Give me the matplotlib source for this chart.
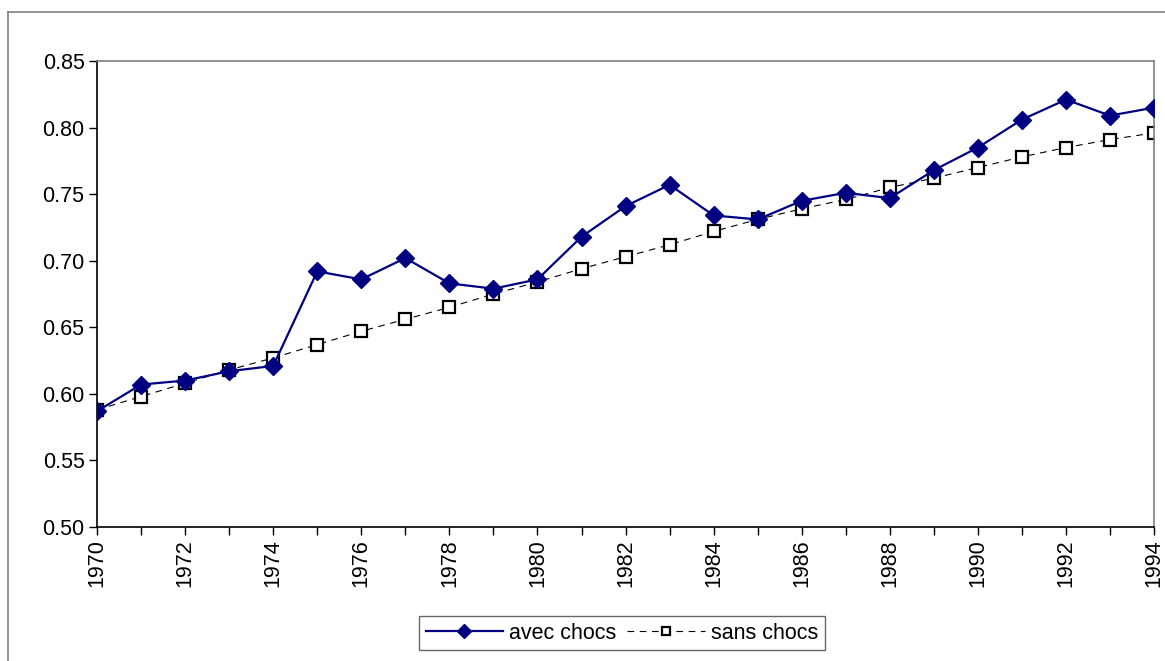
import matplotlib.pyplot as plt
from matplotlib.lines import Line2D

plt.rcParams['font.family'] = ['Liberation Sans', 'DejaVu Sans']

# Data
years = list(range(1970, 1995))
avec_chocs = [0.587, 0.607, 0.610, 0.617, 0.621, 0.692, 0.686, 0.702, 0.683,
              0.679, 0.686, 0.718, 0.741, 0.757, 0.734, 0.731, 0.745, 0.751,
              0.747, 0.768, 0.785, 0.806, 0.821, 0.809, 0.815]
sans_chocs = [0.588, 0.598, 0.608, 0.618, 0.627, 0.637, 0.647, 0.656, 0.665,
              0.675, 0.684, 0.694, 0.703, 0.712, 0.722, 0.731, 0.739, 0.746,
              0.755, 0.762, 0.770, 0.778, 0.785, 0.791, 0.796]
ytick_vals = [0.50, 0.55, 0.60, 0.65, 0.70, 0.75, 0.80, 0.85]

fig = plt.figure(figsize=(11.65, 6.61), dpi=100)
ax = fig.add_axes([0.0833, 0.2027, 0.9073, 0.705])

ax.plot(years, avec_chocs, color='#000080', lw=1.6, marker='D', ms=9.5,
        mfc='#000080', mec='#000080', label='avec chocs', zorder=3)
ax.plot(years, sans_chocs, color='black', lw=0.8, ls=(0, (6, 5)), marker='s',
        ms=9, mfc='white', mec='black', mew=1.6, label='sans chocs', zorder=2)

ax.set_xlim(1970, 1994)
ax.set_ylim(0.50, 0.85)
ax.set_yticks(ytick_vals)
ax.set_yticklabels([f'{v:.2f}' for v in ytick_vals])
ax.set_xticks(years)
ax.set_xticklabels([str(y) if y % 2 == 0 else '' for y in years], rotation=90)
ax.tick_params(axis='both', labelsize=15.5, direction='out', length=6,
               width=1, color='black', pad=3)

for side in ['left', 'bottom']:
    ax.spines[side].set_color('black')
    ax.spines[side].set_linewidth(1.2)
for side in ['top', 'right']:
    ax.spines[side].set_color('#808080')
    ax.spines[side].set_linewidth(1.2)
for lbl in ax.get_xticklabels() + ax.get_yticklabels():
    lbl.set_clip_on(False)

leg = fig.legend(loc='center', bbox_to_anchor=(0.534, 0.042), ncol=2,
                 fontsize=15.5, frameon=True, fancybox=False, handlelength=3.6,
                 handletextpad=0.3, columnspacing=0.5, borderpad=0.3,
                 markerscale=0.7)
leg.get_frame().set_edgecolor('#404040')
leg.get_frame().set_linewidth(1.0)

# outer chart frame
fig.add_artist(Line2D([0.0069, 0.0069], [0, 0.982], transform=fig.transFigure,
                      color='#808080', lw=1.2))
fig.add_artist(Line2D([0.0069, 1], [0.982, 0.982], transform=fig.transFigure,
                      color='#808080', lw=1.2))

fig.savefig('out.png', dpi=100)
